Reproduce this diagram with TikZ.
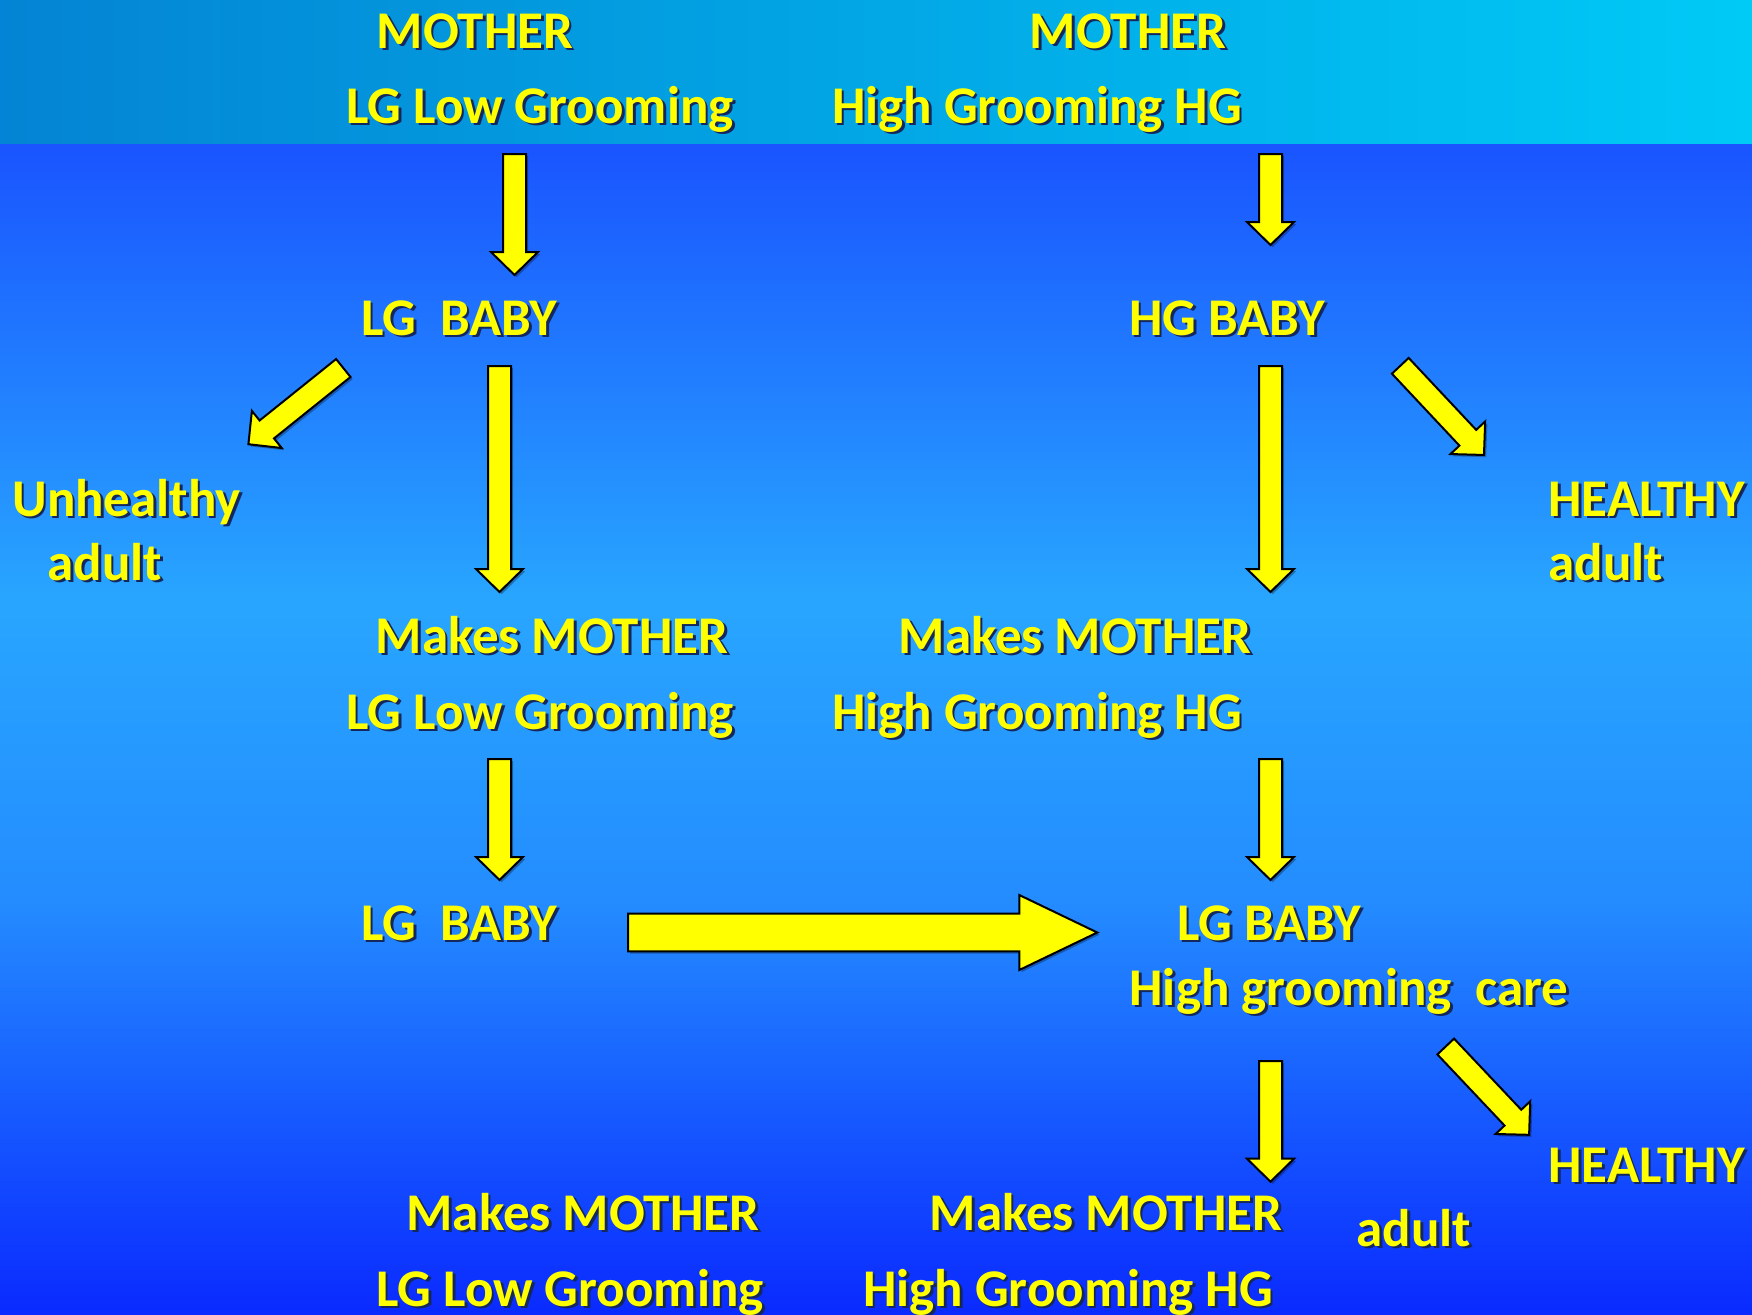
\documentclass[tikz,border=0pt]{standalone}
\usepackage{fontspec}
\setmainfont{Carlito}
\usetikzlibrary{calc}

\definecolor{bandL}{RGB}{4,132,212}
\definecolor{bandR}{RGB}{0,202,246}
\definecolor{bgA}{RGB}{26,84,255}
\definecolor{bgB}{RGB}{40,166,255}
\definecolor{bgC}{RGB}{36,140,255}
\definecolor{bgD}{RGB}{10,42,255}
\definecolor{txtshadow}{RGB}{20,40,95}
\definecolor{arrowfill}{RGB}{255,255,0}
\definecolor{labelyellow}{RGB}{255,255,0}

% yellow text with a dark drop shadow
\newcommand\tsh[1]{\rlap{\kern1.3pt\raisebox{-1.3pt}{\textcolor{txtshadow}{#1}}}#1}

% outline of a block arrow along the x axis: #1 shaft half-width, #2 head half-width, #3 head length (pt)
\newcommand\baoutline[3]{(0pt,-#1pt) -- ({\balen pt-#3pt},-#1pt) -- ({\balen pt-#3pt},-#2pt)
  -- (\balen pt,0pt) -- ({\balen pt-#3pt},#2pt) -- ({\balen pt-#3pt},#1pt) -- (0pt,#1pt) -- cycle}

% block arrow from coordinate #1 (tail) to coordinate #2 (tip)
\newcommand\blockarrow[5]{%
  \path let \p1=($(#2)-(#1)$) in \pgfextra{%
    \pgfmathsetmacro\baang{atan2(\y1,\x1)}%
    \pgfmathsetmacro\balen{veclen(\x1,\y1)}%
    \global\let\baang\baang\global\let\balen\balen};
  \begin{scope}[shift={($(#1)+(1.1pt,-1.1pt)$)}, rotate=\baang]
    \fill[black, opacity=0.3] \baoutline{#3}{#4}{#5};
  \end{scope}
  \begin{scope}[shift={(#1)}, rotate=\baang]
    \draw[arrowbox] \baoutline{#3}{#4}{#5};
  \end{scope}}

\tikzset{
  arrowbox/.style={fill=arrowfill, draw=black, line width=1pt, line join=miter},
  lbl/.style={font=\fontsize{26.5}{30}\selectfont\bfseries, text=labelyellow,
    inner sep=0pt, anchor=base},
  lblw/.style={lbl, anchor=base west}
}

\begin{document}
\begin{tikzpicture}[x=0.5pt, y=-0.5pt]
  % backgrounds
  \useasboundingbox (0,0) rectangle (1752,1314);
  \shade[top color=bgA, bottom color=bgB] (0,142) rectangle (1752,601);
  \shade[top color=bgB, bottom color=bgC] (0,600) rectangle (1752,901);
  \shade[top color=bgC, bottom color=bgD] (0,900) rectangle (1752,1314);
  \shade[left color=bandL, right color=bandR] (0,0) rectangle (1752,143);

  % labels
  \node[lbl] (mL)    at (475,48)   {\tsh{MOTHER}};
  \node[lbl] (lgL)   at (540,123)  {\tsh{LG Low Grooming}};
  \node[lbl] (mR)    at (1128,48)  {\tsh{MOTHER}};
  \node[lbl] (hgR)   at (1037,123) {\tsh{High Grooming HG}};

  \node[lbl] (lgbabyA) at (459,335)  {\tsh{LG\ \ BABY}};
  \node[lbl] (hgbaby)  at (1227,335) {\tsh{HG BABY}};

  \node[lblw] (unh)      at (12,516)   {\tsh{Unhealthy}};
  \node[lblw] (unhadult) at (47,580)   {\tsh{adult}};
  \node[lblw] (healthyA) at (1548,516) {\tsh{HEALTHY}};
  \node[lblw] (adultA)   at (1548,580) {\tsh{adult}};

  \node[lbl] (makesL)  at (552,653)  {\tsh{Makes MOTHER}};
  \node[lbl] (lgL2)    at (540,729)  {\tsh{LG Low Grooming}};
  \node[lbl] (makesR)  at (1075,653) {\tsh{Makes MOTHER}};
  \node[lbl] (hgR2)    at (1037,729) {\tsh{High Grooming HG}};

  \node[lbl] (lgbabyB) at (459,940)  {\tsh{LG\ \ BABY}};
  \node[lbl] (lgbabyC) at (1269,940) {\tsh{LG BABY}};
  \node[lbl] (hgcare)  at (1349,1005) {\tsh{High grooming\ \ care}};

  \node[lblw] (healthyB) at (1548,1182) {\tsh{HEALTHY}};
  \node[lbl]  (adultB)   at (1414,1246) {\tsh{adult}};

  \node[lbl] (makesL3) at (583,1230)  {\tsh{Makes MOTHER}};
  \node[lbl] (lgL3)    at (570,1306)  {\tsh{LG Low Grooming}};
  \node[lbl] (makesR3) at (1106,1230) {\tsh{Makes MOTHER}};
  \node[lbl] (hgR3)    at (1068,1306) {\tsh{High Grooming HG}};

  % arrow end points
  \coordinate (a1t) at (514.5,154);   \coordinate (a1h) at (514.5,275);
  \coordinate (a2t) at (499.5,366);   \coordinate (a2h) at (499.5,592);
  \coordinate (a3t) at (343.3,368);   \coordinate (a3h) at (248.3,444.3);
  \coordinate (a4t) at (1270.5,154);  \coordinate (a4h) at (1270.5,245);
  \coordinate (a5t) at (1270.5,366);  \coordinate (a5h) at (1270.5,592);
  \coordinate (a6t) at (1400.3,365.8); \coordinate (a6h) at (1484,455);
  \coordinate (a7t) at (499.5,759);   \coordinate (a7h) at (499.5,880);
  \coordinate (a8t) at (1270.5,759);  \coordinate (a8h) at (1270.5,880);
  \coordinate (a9t) at (628,932.5);   \coordinate (a9h) at (1097.3,932.5);
  \coordinate (a10t) at (1270.5,1061); \coordinate (a10h) at (1270.5,1181.7);
  \coordinate (a11t) at (1445.7,1046.5); \coordinate (a11h) at (1529.3,1135);

  % arrows
  \blockarrow{a1t}{a1h}{5.75}{11.75}{11.5}
  \blockarrow{a2t}{a2h}{5.75}{11.75}{11.5}
  \blockarrow{a3t}{a3h}{5.75}{11.9}{11.8}
  \blockarrow{a4t}{a4h}{5.75}{11.75}{11.5}
  \blockarrow{a5t}{a5h}{5.75}{11.75}{11.5}
  \blockarrow{a6t}{a6h}{5.75}{11.9}{11.8}
  \blockarrow{a7t}{a7h}{5.75}{11.75}{11.5}
  \blockarrow{a8t}{a8h}{5.75}{11.75}{11.5}
  \blockarrow{a9t}{a9h}{9.4}{18.75}{39}
  \blockarrow{a10t}{a10h}{5.75}{11.75}{11.5}
  \blockarrow{a11t}{a11h}{5.75}{11.9}{11.8}
\end{tikzpicture}
\end{document}
